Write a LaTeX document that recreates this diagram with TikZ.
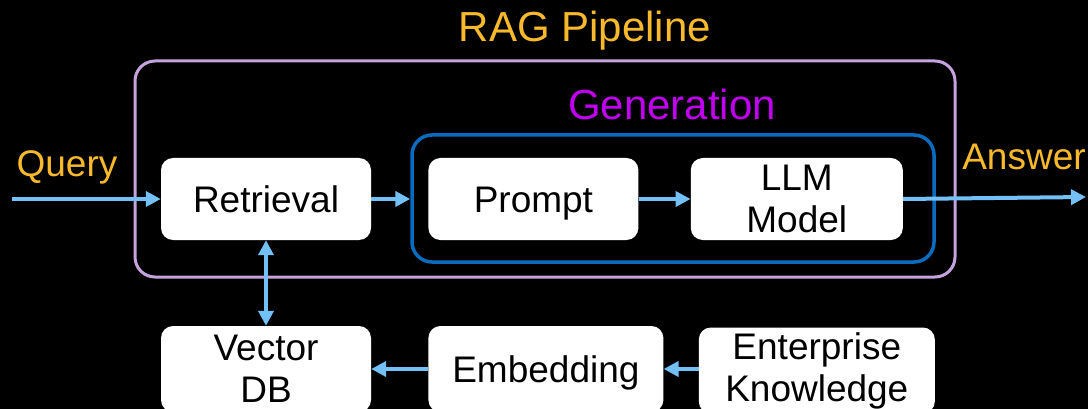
\documentclass[tikz,border=0pt]{standalone}
\usepackage{fontspec}
\setmainfont{Liberation Sans}
\usetikzlibrary{arrows.meta}
\usetikzlibrary{positioning, calc}
\definecolor{ragorange}{HTML}{F9B92C}
\definecolor{genpurple}{HTML}{C000F0}
\definecolor{genblue}{HTML}{0A6CBE}
\definecolor{raglilac}{HTML}{C6A2DE}
\definecolor{arrowblue}{HTML}{72C0F6}
\tikzstyle{block} = [fill=white,rectangle,rounded corners=12pt,align=center,inner sep=0pt,font=\fontsize{37}{42}\selectfont]
\tikzstyle{oneline} = [text height=26.5pt,text depth=0pt]
\tikzstyle{connector} = [-{Triangle[length=15pt,width=15pt]},line width=4pt,draw=arrowblue]
\tikzstyle{frame} = [rectangle,rounded corners=20pt,line width=3pt,inner sep=0pt]
\tikzstyle{label} = [anchor=base,inner sep=0pt]

\begin{document}
\begin{tikzpicture}[x=1pt,y=-1pt]
	\useasboundingbox (0,0) rectangle (1088,409);
	\fill[black] (0,0) rectangle (1088,409);

	% outer frame and generation frame
	\node[frame, draw=raglilac, minimum width=820pt, minimum height=216pt] (rag) at (545,169) {};
	\node[frame, draw=genblue, line width=3.5pt, minimum width=522pt, minimum height=127pt] (gen) at (673,198.5) {};
	\node[label, text=ragorange, font=\fontsize{42}{46}\selectfont] (ragtitle) at (585,41.7) {RAG Pipeline};
	\node[label, text=genpurple, font=\fontsize{42}{46}\selectfont] (gentitle) at (672,120) {Generation};

	% pipeline blocks
	\node[block, oneline, minimum width=210pt, minimum height=82pt] (retrieval) at (266,199) {Retrieval};
	\node[block, oneline, minimum width=210pt, minimum height=82pt, right = 57pt of retrieval] (prompt) {Prompt};
	\node[block, minimum width=212pt, minimum height=82pt, right = 52pt of prompt] (llm) {LLM\\Model};

	% knowledge blocks
	\node[block, minimum width=210pt, minimum height=86pt] (vectordb) at (266,369) {Vector\\DB};
	\node[block, oneline, minimum width=235pt, minimum height=86pt, right = 57pt of vectordb] (embedding) {Embedding};
	\node[block, minimum width=236pt, minimum height=86pt, right = 35pt of embedding, yshift=-1.5pt] (knowledge) {Enterprise\\Knowledge};

	% in and out
	\coordinate (qstart) at (12,199);
	\coordinate (aend) at (1086,197);
	\node[label, text=ragorange, font=\fontsize{37}{42}\selectfont] (query) at (67,176.7) {Query};
	\node[label, text=ragorange, font=\fontsize{37}{42}\selectfont] (answer) at (1024,169.3) {Answer};

	% now link the nodes
	\draw [connector] (qstart) -- (retrieval.west);
	\draw [connector] (retrieval.east) -- (gen.west |- retrieval.east);
	\draw [connector] (prompt) -- (llm);
	\draw [connector] (llm.east) -- (aend);
	\draw [connector, {Triangle[length=15pt,width=15pt]}-{Triangle[length=15pt,width=15pt]}] (retrieval) -- (vectordb);
	\draw [connector] (embedding) -- (vectordb);
	\draw [connector] (knowledge.west |- embedding) -- (embedding);
\end{tikzpicture}
\end{document}
